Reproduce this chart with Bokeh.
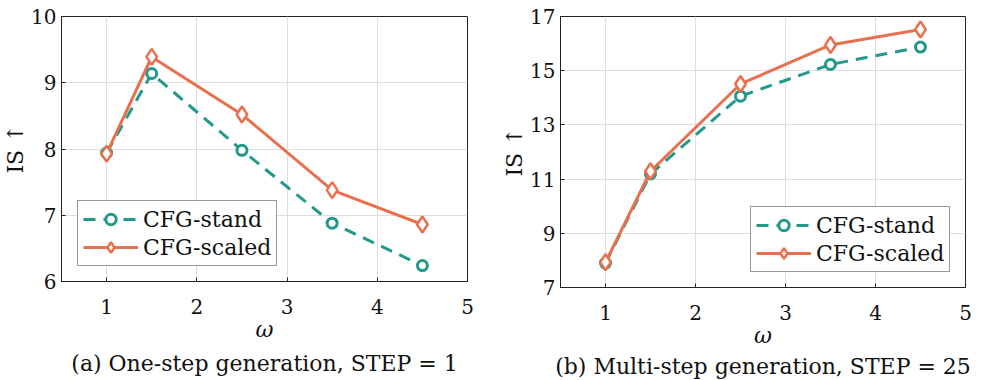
from bokeh.plotting import figure
from bokeh.layouts import row
from bokeh.models import Legend, LegendItem, Title, FixedTicker, Range1d
from bokeh.embed import file_html
from bokeh.resources import INLINE

omega = [1, 1.5, 2.5, 3.5, 4.5]
x_ticks = [1, 2, 3, 4, 5]

a_stand = [7.94, 9.14, 7.98, 6.88, 6.24]
a_scaled = [7.93, 9.39, 8.52, 7.38, 6.86]
a_yticks = [6, 7, 8, 9, 10]

b_stand = [7.90, 11.19, 14.06, 15.23, 15.87]
b_scaled = [7.93, 11.29, 14.51, 15.95, 16.52]
b_yticks = [7, 9, 11, 13, 15, 17]

series_names = ["CFG-stand", "CFG-scaled"]
captions = ["(a) One-step generation, STEP = 1", "(b) Multi-step generation, STEP = 25"]

TEAL = "#23998b"
ORANGE = "#e8704f"
FONT = "DejaVu Serif"


def make_panel(stand, scaled, yticks, caption, fw, fh, bl, br, legend_xy, cap_standoff):
    p = figure(frame_width=fw, frame_height=fh, output_backend="svg",
               toolbar_location=None, x_range=Range1d(0.5, 5),
               y_range=Range1d(yticks[0], yticks[-1]),
               min_border_left=bl, min_border_right=br, min_border_top=16,
               min_border_bottom=2)
    p.outline_line_color = "#222222"
    p.outline_line_width = 1
    p.background_fill_color = "white"
    p.border_fill_color = "white"

    for ax in (p.xaxis[0], p.yaxis[0]):
        ax.major_label_text_font = FONT
        ax.major_label_text_font_size = "20px"
        ax.major_label_text_color = "#111111"
        ax.axis_label_text_font = FONT
        ax.axis_label_text_font_size = "22px"
        ax.axis_label_text_color = "#111111"
        ax.major_tick_in = 4
        ax.major_tick_out = 0
        ax.minor_tick_line_color = None
        ax.axis_line_color = "#222222"
        ax.major_tick_line_color = "#222222"
    p.xaxis.ticker = FixedTicker(ticks=x_ticks)
    p.yaxis.ticker = FixedTicker(ticks=yticks)
    p.xaxis.axis_label = "ω"
    p.xaxis.axis_label_text_font_style = "italic"
    p.xaxis.axis_label_standoff = 0
    p.xaxis.major_label_standoff = 17
    p.yaxis.axis_label = "IS ↑"
    p.yaxis.axis_label_text_font_style = "normal"
    p.yaxis.axis_label_standoff = 0
    p.yaxis.major_label_standoff = 5

    p.grid.grid_line_color = "#dedede"
    p.grid.grid_line_width = 1

    l1 = p.line(omega, stand, line_color=TEAL, line_width=3, line_dash="12 8")
    m1 = p.scatter(omega, stand, marker="circle", size=10, line_color=TEAL,
                   line_width=3, fill_color="white", fill_alpha=1)
    l2 = p.line(omega, scaled, line_color=ORANGE, line_width=3)
    m2 = p.scatter(omega, scaled, marker="diamond", size=16, line_color=ORANGE,
                   line_width=2.5, fill_color="white", fill_alpha=1)

    legend = Legend(items=[LegendItem(label=series_names[0], renderers=[l1, m1]),
                           LegendItem(label=series_names[1], renderers=[l2, m2])],
                    location=legend_xy)
    legend.label_text_font = FONT
    legend.label_text_font_size = "22px"
    legend.label_text_color = "#111111"
    legend.glyph_width = 55
    legend.glyph_height = 26
    legend.label_height = 26
    legend.spacing = 2
    legend.padding = 5
    legend.margin = 0
    legend.label_standoff = 5
    legend.border_line_color = "#333333"
    legend.border_line_width = 1
    legend.background_fill_alpha = 1
    p.add_layout(legend, "center")

    t = Title(text=caption, align="center", text_font=FONT,
              text_font_size="22px", text_font_style="normal",
              text_color="#111111", standoff=cap_standoff)
    p.add_layout(t, "below")
    return p


p1 = make_panel(a_stand, a_scaled, a_yticks, captions[0], 406, 265, 53, 30, (16, 15), 8)
p2 = make_panel(b_stand, b_scaled, b_yticks, captions[1], 405, 271, 63, 22, (190, 15), 3)

layout = row(p1, p2)
open("out.html", "w").write(file_html(layout, INLINE))
